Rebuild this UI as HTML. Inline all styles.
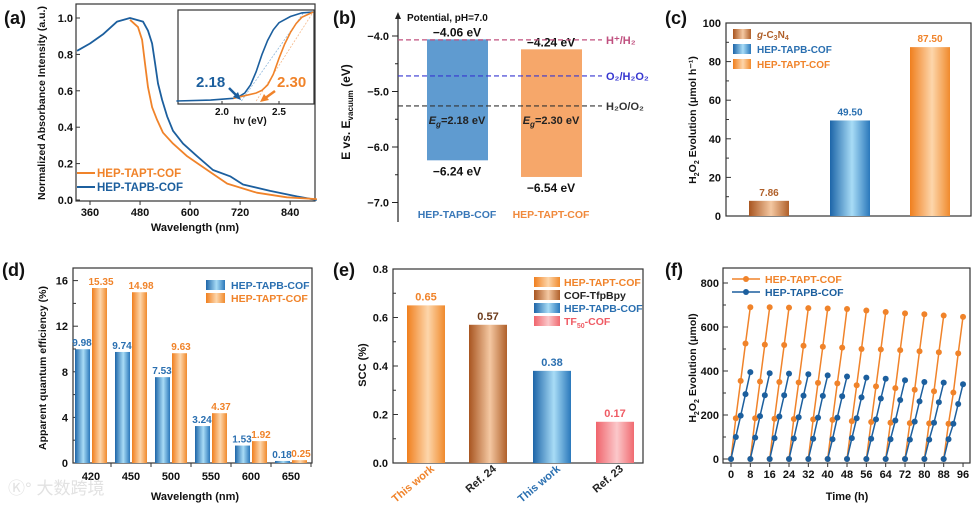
<!DOCTYPE html>
<html><head><meta charset="utf-8"><style>
html,body{margin:0;padding:0;background:#fff;width:976px;height:506px;overflow:hidden}
svg{display:block;font-family:"Liberation Sans","Noto Sans CJK SC",sans-serif;font-weight:bold}
</style></head><body>
<svg id="fig" width="976" height="506" viewBox="0 0 976 506" xmlns="http://www.w3.org/2000/svg">
<defs>
<linearGradient id="gO" x1="0" x2="1"><stop offset="0" stop-color="#f07f1e"/><stop offset="0.55" stop-color="#fdd6ab"/><stop offset="1" stop-color="#f08a2c"/></linearGradient>
<linearGradient id="gB" x1="0" x2="1"><stop offset="0" stop-color="#1d65a8"/><stop offset="0.55" stop-color="#a8dcf6"/><stop offset="1" stop-color="#2a78bb"/></linearGradient>
<linearGradient id="gBr" x1="0" x2="1"><stop offset="0" stop-color="#a85520"/><stop offset="0.55" stop-color="#f4c8a2"/><stop offset="1" stop-color="#b0602a"/></linearGradient>
<linearGradient id="gP" x1="0" x2="1"><stop offset="0" stop-color="#f0646c"/><stop offset="0.55" stop-color="#fbc8ca"/><stop offset="1" stop-color="#f06a70"/></linearGradient>
</defs>
</svg>
<script>
// ---------- data ----------
const absWl = [329,360,391,425,456,487,499,509,516,523,533,545,559,583,617,655,696,727,792,856,904];
const absTAPB = [0.82,0.86,0.91,0.98,1.0,0.98,0.93,0.86,0.75,0.64,0.55,0.46,0.38,0.31,0.24,0.165,0.13,0.085,0.05,0.02,0.0];
const absWlO = [456,475,485,492,499,509,521,535,559,593,641,689,760,832,904];
const absTAPT = [0.99,0.95,0.88,0.75,0.62,0.51,0.44,0.37,0.31,0.24,0.165,0.09,0.04,0.015,0.005];
const insEvB = [1.6,1.9,2.1,2.15,2.2,2.25,2.3,2.35,2.4,2.45,2.5,2.6,2.7,2.8];
const insB = [0,0.01,0.03,0.05,0.09,0.18,0.33,0.52,0.68,0.8,0.88,0.95,0.99,1.0];
const insEvO = [2.1,2.2,2.3,2.35,2.4,2.45,2.5,2.55,2.6,2.65,2.7,2.8];
const insO = [0.03,0.06,0.09,0.12,0.18,0.3,0.48,0.64,0.77,0.87,0.94,1.0];
const bandNames = ["HEP-TAPB-COF","HEP-TAPT-COF"];
const bandCB = [-4.06,-4.24];
const bandVB = [-6.24,-6.54];
const bandGap = ["2.18","2.30"];
const refPot = [-4.07,-4.72,-5.26];
const refNames = ["H⁺/H₂","O₂/H₂O₂","H₂O/O₂"];
const cCats = ["g-C3N4","HEP-TAPB-COF","HEP-TAPT-COF"];
const cVals = [7.86,49.50,87.50];
const dCats = ["420","450","500","550","600","650"];
const dTAPB = [9.98,9.74,7.53,3.24,1.53,0.18];
const dTAPT = [15.35,14.98,9.63,4.37,1.92,0.25];
const eCats = ["This work","Ref. 24","This work","Ref. 23"];
const eVals = [0.65,0.57,0.38,0.17];
const fTimes = [0,2,4,6,8];
const fTAPT = [[0,185,355,525,690],[0,185,352,520,690],[0,183,350,518,688],[0,182,348,515,686],[0,180,346,510,684],[0,178,344,506,682],[0,172,335,500,675],[0,168,330,498,668],[0,165,322,495,662],[0,163,315,490,658],[0,162,308,485,652],[0,160,302,480,646]];
const fTAPB = [[0,100,197,295,395],[0,97,195,290,390],[0,95,193,290,388],[0,93,190,288,385],[0,92,188,287,380],[0,90,188,285,375],[0,95,185,280,370],[0,92,180,275,365],[0,90,175,268,358],[0,88,170,262,350],[0,88,165,258,347],[0,90,160,250,340]];

const NS="http://www.w3.org/2000/svg";
const svg=document.getElementById('fig');
function mk(tag,at,par){const e=document.createElementNS(NS,tag);for(const k in at)e.setAttribute(k,at[k]);(par||svg).appendChild(e);return e;}
function tx(s,x,y,size,fill,anchor,par){const e=mk('text',{x:x,y:y,'font-size':size,fill:fill||'#111','text-anchor':anchor||'start'},par);e.textContent=s;return e;}
function grp(){return mk('g',{});}
function ptsStr(xs,ys){return xs.map((v,i)=>v.toFixed(1)+','+ys[i].toFixed(1)).join(' ');}

// ---------- (a) ----------
(function(){
 const g=grp();
 
 
 const X=nm=>90+(nm-360)*0.417, Y=v=>200-v*182;
 let l=tx('(a)',4,24,18,'#111','start',g);
 
 
 let f=mk('rect',{x:76,y:4,width:239,height:197,fill:'none',stroke:'#333','stroke-width':1.2},g);
 
 
 [0,0.2,0.4,0.6,0.8,1.0].forEach(v=>{mk('line',{x1:76,x2:80,y1:Y(v),y2:Y(v),stroke:'#333'},g);const t=tx(v.toFixed(1),73,Y(v)+4,11,'#111','end',g);});
 [360,480,600,720,840].forEach(v=>{mk('line',{x1:X(v),x2:X(v),y1:201,y2:205,stroke:'#333'},g);const t=tx(String(v),X(v),216,11,'#111','middle',g);});
 let xt=tx('Wavelength (nm)',195,231,11,'#111','middle',g);
 
 
 let yt=tx('Normalized Absorbance Intensity (a.u.)',0,0,10.5,'#111','middle',g);
 yt.setAttribute('transform','translate(45,103) rotate(-90)');
 
 
 let lb=mk('polyline',{points:ptsStr(absWl.map(X),absTAPB.map(Y)),fill:'none',stroke:'#1c5f9e','stroke-width':1.8,'stroke-linejoin':'round'},g);
 
 
 let lo=mk('polyline',{points:ptsStr(absWlO.map(X),absTAPT.map(Y)),fill:'none',stroke:'#f0832a','stroke-width':1.8,'stroke-linejoin':'round'},g);
 
 
 // legend
 mk('line',{x1:77,x2:95,y1:173,y2:173,stroke:'#f0832a','stroke-width':2},g);
 let le1=tx('HEP-TAPT-COF',97,177,11.5,'#f0832a','start',g);
 
 
 mk('line',{x1:77,x2:95,y1:187,y2:187,stroke:'#1c5f9e','stroke-width':2},g);
 let le2=tx('HEP-TAPB-COF',97,191,11.5,'#1c5f9e','start',g);
 
 
 // inset
 const IX=e=>222+(e-2.0)*114, IY=v=>101-v*89;
 let ib=mk('rect',{x:178,y:10,width:136,height:94,fill:'#fff',stroke:'#333','stroke-width':1.2},g);
 
 
 mk('line',{x1:IX(2.17),y1:IY(0),x2:IX(2.72),y2:IY(1),stroke:'#8fb8dc','stroke-width':0.8,'stroke-dasharray':'2,1.5'},g);
 mk('line',{x1:IX(2.3),y1:IY(0),x2:IX(2.8),y2:IY(1),stroke:'#f5b98a','stroke-width':0.8,'stroke-dasharray':'2,1.5'},g);
 let ilb=mk('polyline',{points:ptsStr(insEvB.map(IX),insB.map(IY)),fill:'none',stroke:'#1c5f9e','stroke-width':1.6},g);
 
 
 let ilo=mk('polyline',{points:ptsStr(insEvO.map(IX),insO.map(IY)),fill:'none',stroke:'#f0832a','stroke-width':1.6},g);
 
 
 [2.0,2.5].forEach(v=>{mk('line',{x1:IX(v),x2:IX(v),y1:104,y2:101,stroke:'#333'},g);tx(v.toFixed(1),IX(v),115,10,'#111','middle',g);});
 tx('hv (eV)',250,124,10,'#111','middle',g);
 let a1=tx('2.18',196,87,15,'#1c5f9e','start',g);
 
 
 mk('path',{d:'M229,88 L238,97',stroke:'#1c5f9e','stroke-width':2.5},g);
 mk('path',{d:'M241,100 L233,97 L238,92 Z',fill:'#1c5f9e'},g);
 let a2=tx('2.30',277,87,15,'#f0832a','start',g);
 
 
 mk('path',{d:'M275,91 L264,99',stroke:'#f0832a','stroke-width':2.5},g);
 mk('path',{d:'M260,102 L264,94 L269,100 Z',fill:'#f0832a'},g);
})();

// ---------- (b) ----------
(function(){
 const g=grp();
 
 
 const Y=v=>36+(-4.0-v)*55.5;
 let l=tx('(b)',333,24,18,'#111','start',g);
 
 
 mk('line',{x1:398,x2:398,y1:14,y2:222,stroke:'#222','stroke-width':1.2},g);
 mk('path',{d:'M395,19 L398,12 L401,19 Z',fill:'#222'},g);
 [-4,-4.5,-5,-5.5,-6,-6.5,-7].forEach(v=>{const major=Number.isInteger(v);mk('line',{x1:398,x2:major?392:395,y1:Y(v),y2:Y(v),stroke:'#222'},g);if(major){const t=tx(v.toFixed(1).replace('-','−'),389,Y(v)+4,11,'#111','end',g);}});
 tx('Potential, pH=7.0',407,21,10,'#111','start',g);
 let yt=tx('',0,0,12,'#111','middle',g);
 yt.innerHTML='E vs. E<tspan font-size="8" dy="3">vacuum</tspan><tspan dy="-3"> (eV)</tspan>';
 yt.setAttribute('transform','translate(350,112) rotate(-90)');
 
 
 const cols=['#5f9bd0','#f6a76a'], tcol=['#3a78b8','#f0893c'], bx=[427,521];
 bandNames.forEach((n,i)=>{
  const r=mk('rect',{x:bx[i],y:Y(bandCB[i]),width:61,height:Y(bandVB[i])-Y(bandCB[i]),fill:cols[i]},g);
  
  
  tx('−'+Math.abs(bandCB[i]).toFixed(2)+' eV',bx[i]+30,Y(bandCB[i])-3,12,'#111','middle',g);
  tx('−'+Math.abs(bandVB[i]).toFixed(2)+' eV',bx[i]+30,Y(bandVB[i])+15,12,'#111','middle',g);
  const e=tx('',bx[i]+30,124,11,'#222','middle',g);
  e.innerHTML='<tspan font-style="italic">E</tspan><tspan font-size="8" dy="3" font-style="italic">g</tspan><tspan dy="-3">='+bandGap[i]+' eV</tspan>';
  const c=tx(n,bx[i]+30,218,10.5,tcol[i],'middle',g);
  
  
 });
 const rc=['#c0507f','#3636d0','#333'];
 refPot.forEach((v,i)=>{
  const d=mk('line',{x1:398,x2:602,y1:Y(v),y2:Y(v),stroke:rc[i],'stroke-width':1.2,'stroke-dasharray':'5,3'},g);
  
  
  tx(refNames[i],606,Y(v)+4,11,rc[i],'start',g);
 });
})();

// ---------- helper for bar charts ----------
function frame(g,x,y,w,h){mk('rect',{x:x,y:y,width:w,height:h,fill:'none',stroke:'#333','stroke-width':1.2},g);}

// ---------- (c) ----------
(function(){
 const g=grp();
 
 
 const Y=v=>216-v*1.93;
 let l=tx('(c)',665,24,18,'#111','start',g);
 
 
 frame(g,726,23,245,193);
 for(let v=0;v<=100;v+=10){mk('line',{x1:726,x2:v%20?729:731,y1:Y(v),y2:Y(v),stroke:'#333'},g);if(v%20==0){const t=tx(String(v),721,Y(v)+4,11,'#111','end',g);}}
 let yt=tx('',0,0,10.5,'#111','middle',g);
 yt.innerHTML='H<tspan font-size="7" dy="3">2</tspan><tspan dy="-3">O</tspan><tspan font-size="7" dy="3">2</tspan><tspan dy="-3"> Evolution (μmol h⁻¹)</tspan>';
 yt.setAttribute('transform','translate(696,120) rotate(-90)');
 
 
 const fills=['url(#gBr)','url(#gB)','url(#gO)'], tc=['#b0602a','#2a6fb0','#f0832a'], bx=[749,830,910];
 cVals.forEach((v,i)=>{
  const r=mk('rect',{x:bx[i],y:Y(v),width:40,height:216-Y(v),fill:fills[i]},g);
  
  
  tx(v.toFixed(2),bx[i]+20,Y(v)-5,10,tc[i],'middle',g);
 });
 const ly=[34,49,64];
 cCats.forEach((n,i)=>{
  const s=mk('rect',{x:733,y:ly[i]-5,width:18,height:10,fill:fills[i]},g);
  
  
  const t=tx('',757,ly[i]+4,10,tc[i],'start',g);
  if(i==0)t.innerHTML='<tspan font-style="italic">g</tspan>-C<tspan font-size="7" dy="2">3</tspan><tspan dy="-2">N</tspan><tspan font-size="7" dy="2">4</tspan>';else t.textContent=n;
  
  
 });
})();

// ---------- (d) ----------
(function(){
 const g=grp();
 
 
 const Y=v=>463-v*11.4, CX=i=>91+i*40;
 let l=tx('(d)',2,276,18,'#111','start',g);
 
 
 frame(g,73,268,239,195);
 for(let v=0;v<=16;v+=2){mk('line',{x1:73,x2:v%4?76:78,y1:Y(v),y2:Y(v),stroke:'#333'},g);if(v%4==0){const t=tx(String(v),68,Y(v)+4,11,'#111','end',g);}}
 let yt=tx('Apparent quantum efficiency (%)',0,0,10.5,'#111','middle',g);
 yt.setAttribute('transform','translate(46,368) rotate(-90)');
 
 
 dCats.forEach((c,i)=>{
  mk('line',{x1:CX(i)+20,x2:CX(i)+20,y1:463,y2:467,stroke:'#333'},g);
  const t=tx(c,CX(i),480,11,'#111','middle',g);
  
  
  const b=mk('rect',{x:CX(i)-16,y:Y(dTAPB[i]),width:15,height:463-Y(dTAPB[i]),fill:'url(#gB)'},g);
  
  
  const o=mk('rect',{x:CX(i)+1,y:Y(dTAPT[i]),width:15,height:463-Y(dTAPT[i]),fill:'url(#gO)'},g);
  
  
  tx(dTAPB[i].toFixed(2),CX(i)-9,Y(dTAPB[i])-3,10,'#2a6fb0','middle',g);
  tx(dTAPT[i].toFixed(2),CX(i)+10,Y(dTAPT[i])-3,10,'#f0832a','middle',g);
 });
 let xt=tx('Wavelength (nm)',195,500,11,'#111','middle',g);
 
 
 mk('rect',{x:206,y:280,width:19,height:10,fill:'url(#gB)'},g);
 let le1=tx('HEP-TAPB-COF',231,289,10.5,'#2a6fb0','start',g);
 
 
 mk('rect',{x:206,y:293,width:19,height:10,fill:'url(#gO)'},g);
 let le2=tx('HEP-TAPT-COF',231,302,10.5,'#f0832a','start',g);
 
 
 let wm=tx('Ⓚ° 大数跨境',8,494,17,'#e2e2e2','start',g);
 wm.setAttribute('font-weight','normal');
 
 
})();

// ---------- (e) ----------
(function(){
 const g=grp();
 
 
 const Y=v=>463-v*242.5;
 let l=tx('(e)',333,276,18,'#111','start',g);
 
 
 frame(g,393,269,250,194);
 for(let v=0;v<=8;v++){mk('line',{x1:393,x2:v%2?396:398,y1:Y(v/10),y2:Y(v/10),stroke:'#333'},g);if(v%2==0){const t=tx((v/10).toFixed(1),388,Y(v/10)+4,11,'#111','end',g);}}
 let yt=tx('SCC (%)',0,0,11,'#111','middle',g);
 yt.setAttribute('transform','translate(366,365) rotate(-90)');
 
 
 const fills=['url(#gO)','url(#gBr)','url(#gB)','url(#gP)'], tc=['#f0832a','#6b3a1a','#2a6fb0','#ef5b64'], lc=['#f0832a','#222','#2a6fb0','#222'], bx=[407,469,533,596];
 eVals.forEach((v,i)=>{
  const r=mk('rect',{x:bx[i],y:Y(v),width:38,height:463-Y(v),fill:fills[i]},g);
  
  
  tx(v.toFixed(2),bx[i]+19,Y(v)-5,11,i==1?'#6b3a1a':tc[i],'middle',g);
  const t=tx(eCats[i],0,0,11,lc[i],'end',g);
  t.setAttribute('transform','translate('+(bx[i]+28)+',470) rotate(-40)');
  
  
 });
 const names=['HEP-TAPT-COF','COF-TfpBpy','HEP-TAPB-COF','TF50-COF'], ly=[282,295,308,321];
 names.forEach((n,i)=>{
  mk('rect',{x:534,y:ly[i]-5,width:26,height:10,fill:fills[i]},g);
  const t=tx('',564,ly[i]+4,10.5,i==1?'#222':tc[i],'start',g);
  if(i==3)t.innerHTML='TF<tspan font-size="7" dy="3">50</tspan><tspan dy="-3">-COF</tspan>';else t.textContent=n;
  
  
 });
})();

// ---------- (f) ----------
(function(){
 const g=grp();
 
 
 const Y=v=>459-v*0.22, X=t=>731+t*2.417;
 let l=tx('(f)',665,276,18,'#111','start',g);
 
 
 frame(g,723,268,247,195);
 for(let v=0;v<=800;v+=100){mk('line',{x1:723,x2:v%200?726:728,y1:Y(v),y2:Y(v),stroke:'#333'},g);if(v%200==0){const t=tx(String(v),719,Y(v)+4,11,'#111','end',g);}}
 for(let t=0;t<=96;t+=8){mk('line',{x1:X(t),x2:X(t),y1:463,y2:467,stroke:'#333'},g);const s=tx(String(t),X(t),478,11,'#111','middle',g);}
 let xt=tx('Time (h)',847,500,11,'#111','middle',g);
 
 
 let yt=tx('',0,0,10.5,'#111','middle',g);
 yt.innerHTML='H<tspan font-size="7" dy="3">2</tspan><tspan dy="-3">O</tspan><tspan font-size="7" dy="3">2</tspan><tspan dy="-3"> Evolution (μmol)</tspan>';
 yt.setAttribute('transform','translate(696,368) rotate(-90)');
 
 
 function series(data,col,name){
  data.forEach((cyc,c)=>{
   const xs=fTimes.map(t=>X(t+c*8)), ys=cyc.map(Y);
   const pl=mk('polyline',{points:ptsStr(xs,ys),fill:'none',stroke:col,'stroke-width':1.5},g);
   
   
   xs.forEach((x,k)=>{
    const p=mk('circle',{cx:x,cy:ys[k],r:3,fill:col},g);
    
    
   });
  });
 }
 series(fTAPT,'#f0832a','tapt');
 series(fTAPB,'#1c5f9e','tapb');
 mk('line',{x1:732,x2:760,y1:279,y2:279,stroke:'#f0832a','stroke-width':1.5},g);
 mk('circle',{cx:746,cy:279,r:3,fill:'#f0832a'},g);
 let le1=tx('HEP-TAPT-COF',765,283,10.5,'#f0832a','start',g);
 
 
 mk('line',{x1:732,x2:760,y1:292,y2:292,stroke:'#1c5f9e','stroke-width':1.5},g);
 mk('circle',{cx:746,cy:292,r:3,fill:'#1c5f9e'},g);
 let le2=tx('HEP-TAPB-COF',765,296,10.5,'#1c5f9e','start',g);
 
 
})();
</script>
</body></html>
